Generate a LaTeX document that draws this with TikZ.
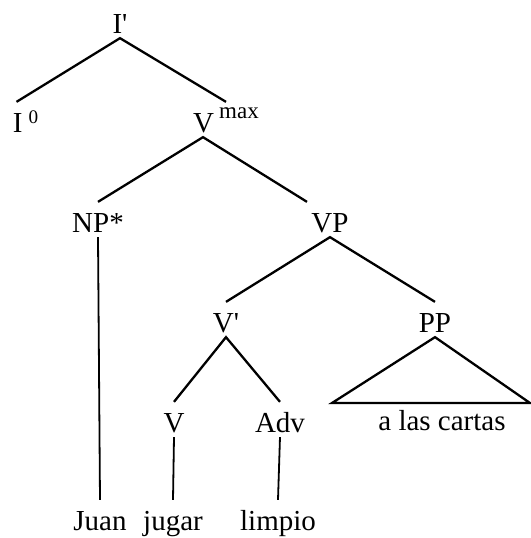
\documentclass[tikz,border=0pt]{standalone}
\usepackage{fontspec}
\setmainfont{Liberation Serif}
\begin{document}
\begin{tikzpicture}[x=.5pt,y=-.5pt,
  cat/.style={anchor=base,inner xsep=1pt,inner ysep=2pt,text height=12.5pt,text depth=0pt,
    font=\fontsize{14.5}{17}\selectfont},
  sup/.style={font=\fontsize{#1}{#1}\selectfont}]
\pgfsetlinewidth{1.15pt}
\useasboundingbox (0,0) rectangle (531,538);
\node[cat] (iprime) at (120,33) {I\textquotesingle};
\node[cat] (izero) at (25.5,132) {I\hspace{3pt}\raisebox{4.5pt}{\fontsize{9.6}{10}\selectfont 0}};
\node[cat] (vmax) at (226,132) {V\hspace{2.5pt}\raisebox{7pt}{\fontsize{11.5}{12}\selectfont max}};
\node[cat] (np) at (98,232) {NP*};
\node[cat] (vp) at (330,232) {VP};
\node[cat] (vbar) at (226,332) {V\textquotesingle};
\node[cat] (pp) at (435,332) {PP};
\node[cat] (v) at (174,432) {V};
\node[cat] (adv) at (280,432) {Adv};
\node[cat] (cartas) at (442,430) {a las cartas};
\node[cat] (juan) at (100,530) {Juan};
\node[cat] (jugar) at (173,530) {jugar};
\node[cat] (limpio) at (278,530) {limpio};
\coordinate (ppl) at (332,403);
\coordinate (ppr) at (530,403);
% branches
\draw ([xshift=-4.5pt]izero.north) -- (iprime.south) -- (vmax.north);
\draw (np.north) -- ([xshift=-11.5pt]vmax.south) -- ([xshift=-11.5pt]vp.north);
\draw (vbar.north) -- (vp.south) -- (pp.north);
\draw (v.north) -- (vbar.south) -- (adv.north);
\draw (ppl) -- (pp.south) -- (ppr) -- cycle;
% lexical items
\draw[line width=.9pt] (np.south) -- (juan.north);
\draw[line width=.9pt] (v.south) -- (jugar.north);
\draw[line width=.9pt] (adv.south) -- (limpio.north);
\end{tikzpicture}
\end{document}
